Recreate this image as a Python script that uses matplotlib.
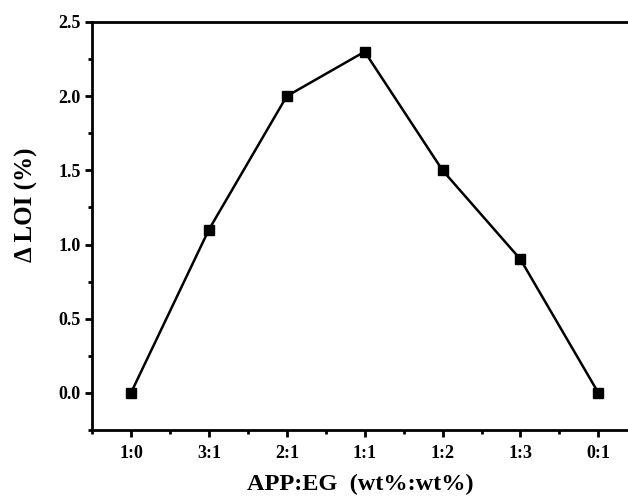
import matplotlib
matplotlib.use("Agg")
import matplotlib.pyplot as plt
from matplotlib.ticker import MultipleLocator, FormatStrFormatter

ratios = ["1:0", "3:1", "2:1", "1:1", "1:2", "1:3", "0:1"]
delta_loi = [0.0, 1.1, 2.0, 2.3, 1.5, 0.9, 0.0]

plt.rcParams['font.family'] = ['Liberation Serif', 'DejaVu Serif']
plt.rcParams['font.weight'] = 'bold'

fig = plt.figure(figsize=(6.28, 4.97), dpi=100)
ax = fig.add_axes([92/628, 1-430/497, 1-92/628, (430-22)/497])

x = list(range(len(ratios)))
ax.plot(x, delta_loi, color='black', lw=1.8, marker='s', ms=7.5, mfc='black', mec='black')

ax.set_xlim(-0.5, 6.38)
ax.set_ylim(-0.25, 2.5)
ax.set_xticks(x)
ax.set_xticklabels(ratios)
ax.xaxis.set_minor_locator(MultipleLocator(0.5))
ax.yaxis.set_major_locator(MultipleLocator(0.5))
ax.yaxis.set_minor_locator(MultipleLocator(0.25))
ax.yaxis.set_major_formatter(FormatStrFormatter('%.1f'))

for s in ['left', 'bottom', 'top']:
    ax.spines[s].set_linewidth(2)
ax.spines['right'].set_visible(False)

ax.tick_params(axis='both', which='major', direction='out', length=5, width=2, labelsize=13)
ax.tick_params(axis='x', which='major', pad=6)
ax.tick_params(axis='y', which='major', pad=3)
ax.tick_params(axis='both', which='minor', direction='out', length=3, width=2)
for lab in ax.get_xticklabels() + ax.get_yticklabels():
    lab.set_fontweight('bold')

ax.set_xlabel("APP:EG  (wt%:wt%)", fontsize=17.5, fontweight='bold', labelpad=8)
ax.set_ylabel("Δ LOI (%)", fontsize=18, fontweight='bold')
ax.yaxis.set_label_coords(-0.10, 0.551)

fig.savefig("out.png", dpi=100)
